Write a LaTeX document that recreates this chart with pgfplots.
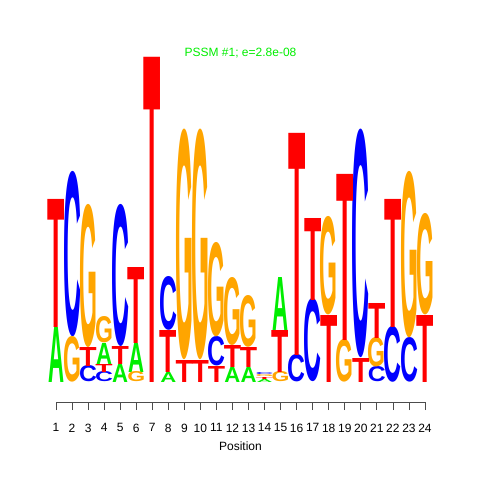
\documentclass[border=0pt]{standalone}
\usepackage{graphicx}
\usepackage{pgfplots}
\pgfplotsset{compat=1.18}
\usepackage{fontspec}
\setmainfont{Liberation Sans}

\newdimen\px \px=0.75pt
\definecolor{lgA}{RGB}{0,238,0}
\definecolor{lgC}{RGB}{0,0,255}
\definecolor{lgG}{RGB}{255,165,0}
\definecolor{lgT}{RGB}{255,0,0}
\definecolor{ttl}{RGB}{0,238,0}

% x = position, y = bottom of the letter, h = its height (px of the reference)
\pgfplotstableread{
x y h
1 0 55
4 18 21
5 0 18
6 10 29
8 0 10
12 0 15
13 0 15
14 0 3
15 52 53
}\tabA
\pgfplotstableread{
x y h
2 45 163
3 0 16
4 0 10
5 36 140
8 52 53
11 16 29
14 7 2
16 0 27
17 0 82
20 24 225
21 0 15
22 0 55
23 0 44
}\tabC
\pgfplotstableread{
x y h
2 0 45
3 35 141
4 39 26
6 0 10
9 22 227
10 22 227
11 45 93
12 37 67
13 35 51
14 5 2
15 0 10
18 67 97
19 0 42
21 15 29
23 44 164
24 67 100
}\tabG
\pgfplotstableread{
x y h
1 55 128
3 16 19
4 10 8
5 18 18
6 39 76
7 0 325
8 10 42
9 0 22
10 0 22
11 0 16
12 15 22
13 15 20
14 3 2
15 10 42
16 27 222
17 82 82
18 0 67
19 42 166
20 0 24
21 44 35
22 55 128
24 0 67
}\tabT

\pgfplotsset{
  logo letter/.style n args={3}{%
    only marks, mark=*, mark size=0pt, mark options={draw=none,fill=none},
    visualization depends on={\thisrow{h}\as\hgt},
    nodes near coords={\color{#2}\resizebox{#3\px}{\hgt\px}{\bfseries #1}},
    every node near coord/.append style={anchor=south, inner sep=0pt, outer sep=0pt},
  },
}

\begin{document}
\begin{tikzpicture}
\begin{axis}[
  scale only axis, width=276.75pt, height=261.75pt,
  xmin=1, xmax=24, ymin=-20, ymax=329, clip=false,
  axis x line*=bottom, axis y line=none,
  x axis line style={-, black!70, line width=0.6pt},
  xtick={1,...,24}, tick align=outside, major tick length=6pt,
  tick style={black!70, line width=0.6pt},
  /pgf/number format/assume math mode=true,
  xticklabel style={font=\fontsize{9}{10}\selectfont, yshift=-6.75pt},
  xlabel={Position}, xlabel style={font=\fontsize{9}{10}\selectfont},
  title={PSSM \#1; e=2.8e-08},
  title style={text=ttl, font=\fontsize{9}{10}\selectfont, at={(0.5,1)}, anchor=center, yshift=-6pt},
]
\addplot[logo letter={A}{lgA}{16}] table {\tabA};
\addplot[logo letter={C}{lgC}{17.9}] table {\tabC};
\addplot[logo letter={G}{lgG}{17.9}] table {\tabG};
\addplot[logo letter={T}{lgT}{17.3}] table {\tabT};
\coordinate (bbBL) at (axis cs:-2.4906,-98);
\coordinate (bbTR) at (axis cs:27.429,382);
\end{axis}
\pgfresetboundingbox
\useasboundingbox (bbBL) rectangle (bbTR);
\end{tikzpicture}
\end{document}
